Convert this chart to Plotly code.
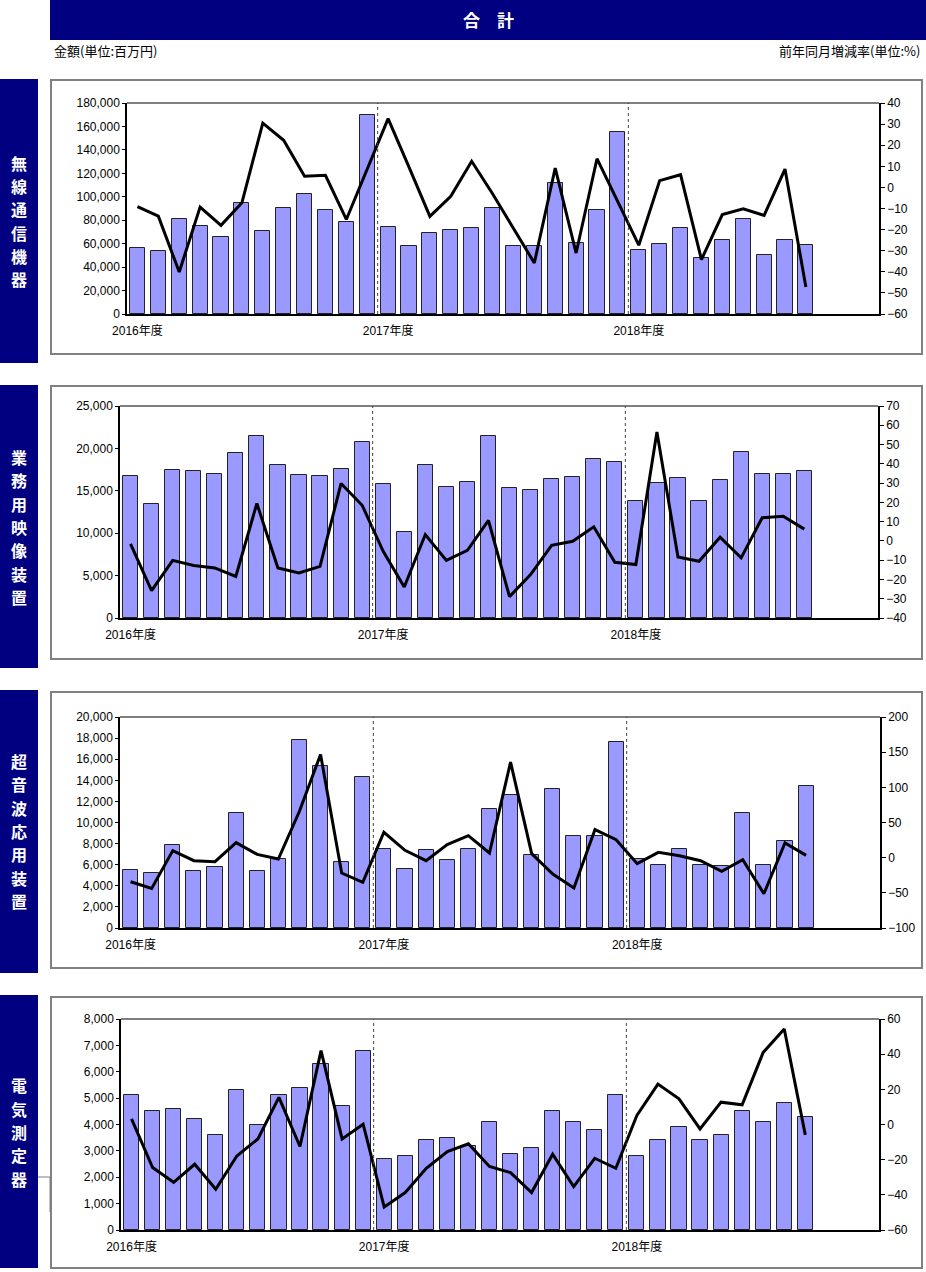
import plotly.graph_objects as go

W, H = 926, 1272

# ---------------- data ----------------
months = list(range(33))  # 2016-04 .. 2018-12
year_ticks = [0, 12, 24]
year_labels = ["2016年度", "2017年度", "2018年度"]

wireless_amt = [56500, 53500, 81000, 75500, 65500, 94500, 71000, 90500, 102500, 89000, 78500, 169500,
                74500, 58000, 69000, 71500, 73000, 90500, 58000, 58000, 112000, 60500, 89000, 155000,
                54500, 59500, 73500, 47500, 63500, 81000, 50000, 63000, 59000]
wireless_yoy = [-9.1, -13.6, -40.1, -9.3, -18.0, -7.3, 30.5, 22.3, 5.3, 5.7, -15.2, 8.5,
                32.6, 9.6, -13.7, -4.2, 12.4, -3.0, -19.5, -35.8, 9.2, -31.1, 13.6, -6.9,
                -27.4, 3.2, 6.0, -34.2, -12.9, -10.1, -13.3, 8.7, -47.2]

video_amt = [16800, 13400, 17500, 17300, 17000, 19500, 21500, 18100, 16900, 16800, 17600, 20800,
             15800, 10200, 18000, 15500, 16000, 21500, 15300, 15100, 16400, 16600, 18800, 18400,
             13800, 15900, 16500, 13800, 16300, 19600, 17000, 17000, 17300]
video_yoy = [-1.6, -25.8, -10.1, -12.8, -14.0, -18.4, 19.4, -14.0, -16.6, -13.2, 29.8, 18.5,
             -5.4, -23.9, 3.3, -10.1, -4.9, 10.6, -28.9, -17.5, -2.3, -0.2, 7.3, -11.1,
             -12.3, 56.5, -8.3, -10.6, 1.9, -8.8, 12.0, 12.8, 6.1]

ultra_amt = [5500, 5200, 7900, 5400, 5800, 10900, 5400, 6500, 17800, 15400, 6300, 14300,
             7500, 5600, 7400, 6400, 7500, 11300, 12600, 6900, 13200, 8700, 8700, 17600,
             6500, 6000, 7500, 6000, 5900, 10900, 6000, 8200, 13500]
ultra_yoy = [-34.2, -43.7, 10.0, -4.3, -5.7, 21.4, 4.7, -1.9, 66.0, 146.7, -21.8, -35.1,
             36.1, 10.4, -4.3, 18.5, 31.3, 6.6, 135.8, 5.7, -23.3, -43.2, 39.9, 25.6,
             -8.5, 7.6, 2.8, -4.3, -19.5, -2.8, -51.3, 20.9, 3.3]

meter_amt = [5100, 4500, 4600, 4200, 3600, 5300, 4000, 5100, 5400, 6300, 4700, 6800,
             2700, 2800, 3400, 3500, 3200, 4100, 2900, 3100, 4500, 4100, 3800, 5100,
             2800, 3400, 3900, 3400, 3600, 4500, 4100, 4800, 4300]
meter_yoy = [3.2, -24.5, -32.9, -22.6, -36.8, -17.9, -8.2, 15.4, -12.5, 42.0, -8.2, 0.2,
             -46.9, -38.7, -24.9, -15.4, -11.0, -23.9, -27.4, -38.7, -16.9, -35.3, -19.2, -24.9,
             5.1, 23.0, 14.6, -2.5, 12.7, 11.2, 41.0, 54.3, -5.9]

panel_names = ["無線通信機器", "業務用映像装置", "超音波応用装置", "電気測定器"]
left_ranges = [(0, 180000, 20000), (0, 25000, 5000), (0, 20000, 2000), (0, 8000, 1000)]
right_ranges = [(-60, 40, 10), (-40, 70, 10), (-100, 200, 50), (-60, 60, 20)]
amounts = [wireless_amt, video_amt, ultra_amt, meter_amt]
yoys = [wireless_yoy, video_yoy, ultra_yoy, meter_yoy]

# ---------------- layout geometry (pixels) ----------------
plot_boxes = [(127, 879, 103, 314), (120, 878, 406, 618), (120, 880, 717, 928), (121, 879, 1019, 1230)]
frames = [(51, 922, 80, 354), (51, 922, 386, 659), (51, 922, 692, 968), (51, 922, 997, 1268)]
side_boxes = [(79, 363), (385, 668), (690, 973), (995, 1268)]
label_centers = [221, 527, 831, 1132]
char_step = 23.3

NAVY = "#000080"
NUMFONT = "Liberation Sans, Arial, Noto Sans CJK JP, sans-serif"
JPFONT = "Noto Sans CJK JP, sans-serif"


def px(x):
    return x / W


def py(y):
    return 1 - y / H


fig = go.Figure()
layout = dict(
    template="none",
    width=W, height=H, margin=dict(l=0, r=0, t=0, b=0, pad=0), autosize=False,
    paper_bgcolor="white", plot_bgcolor="white", showlegend=False,
    font=dict(family=NUMFONT, size=12, color="#000"),
    bargap=0,
)
shapes = []
annotations = []

for i in range(4):
    n = i + 1
    xa = "x" if n == 1 else f"x{n}"
    ya = "y" if n == 1 else f"y{n}"
    yr = f"y{n + 4}"
    x0, x1, y0, y1 = plot_boxes[i]

    fig.add_trace(go.Bar(x=months, y=amounts[i], xaxis=xa, yaxis=ya, width=0.72,
                         marker=dict(color="#9999FF", line=dict(color="#222", width=1))))
    fig.add_trace(go.Scatter(x=months, y=yoys[i], xaxis=xa, yaxis=yr, mode="lines",
                             line=dict(color="#000", width=3)))

    layout[f"xaxis{'' if n == 1 else n}"] = dict(
        domain=[px(x0), px(x1)], anchor=ya, range=[-0.5, 35.5], automargin=False,
        tickmode="array", tickvals=year_ticks, ticktext=year_labels, ticklabelstandoff=5,
        ticks="", showline=True, linecolor="#000", linewidth=1.5, showgrid=False,
        zeroline=False, tickfont=dict(size=12, family=NUMFONT), fixedrange=True,
    )
    lo, hi, dt = left_ranges[i]
    layout[f"yaxis{'' if n == 1 else n}"] = dict(
        domain=[py(y1), py(y0)], anchor=xa, range=[lo, hi], dtick=dt, tick0=0,
        automargin=False, tickformat=",d", ticks="outside", ticklen=3, tickcolor="#000",
        showline=True, linecolor="#000", linewidth=1.5, showgrid=False, zeroline=False,
        tickfont=dict(size=12), fixedrange=True,
    )
    rlo, rhi, rdt = right_ranges[i]
    layout[f"yaxis{n + 4}"] = dict(
        overlaying=ya, anchor=xa, side="right", range=[rlo, rhi], dtick=rdt, tick0=0,
        automargin=False, ticks="outside", ticklen=4, tickcolor="#000",
        showline=True, linecolor="#000", linewidth=1.5, showgrid=False, zeroline=False,
        tickfont=dict(size=12), fixedrange=True,
    )

    # plot area top border
    shapes.append(dict(type="line", xref="paper", yref="paper", x0=px(x0), x1=px(x1),
                       y0=py(y0), y1=py(y0), line=dict(color="#555", width=1.5)))
    # fiscal-year dividers
    for d in (11.5, 23.5):
        shapes.append(dict(type="line", xref=xa, yref=f"{ya} domain", x0=d, x1=d, y0=0, y1=1,
                           line=dict(color="#444", width=1, dash="dot")))
    # panel frame
    fx0, fx1, fy0, fy1 = frames[i]
    shapes.append(dict(type="rect", xref="paper", yref="paper", x0=px(fx0), x1=px(fx1),
                       y0=py(fy1), y1=py(fy0), line=dict(color="#808080", width=2)))
    # side label box
    sy0, sy1 = side_boxes[i]
    shapes.append(dict(type="rect", xref="paper", yref="paper", x0=0, x1=px(38),
                       y0=py(sy1), y1=py(sy0), fillcolor=NAVY, line=dict(width=0)))
    name = panel_names[i]
    for k, ch in enumerate(name):
        cy = label_centers[i] + (k - (len(name) - 1) / 2) * char_step
        annotations.append(dict(xref="paper", yref="paper", x=px(19), y=py(cy),
                                text=f"<b>{ch}</b>", showarrow=False, borderpad=0,
                                font=dict(family=JPFONT, size=16, color="white"),
                                xanchor="center", yanchor="middle"))

# small connector line near bottom panel
shapes.append(dict(type="path", xref="paper", yref="paper",
                   path=f"M {px(38)},{py(1177)} L {px(50)},{py(1177)} L {px(50)},{py(1212)}",
                   line=dict(color="#808080", width=1)))

# title bar
shapes.append(dict(type="rect", xref="paper", yref="paper", x0=px(50), x1=1,
                   y0=py(40), y1=1, fillcolor=NAVY, line=dict(width=0)))
annotations.append(dict(xref="paper", yref="paper", x=px(488), y=py(20), text="<b>合　計</b>",
                        showarrow=False, font=dict(family=JPFONT, size=17, color="white"),
                        xanchor="center", yanchor="middle"))
annotations.append(dict(xref="paper", yref="paper", x=px(52), y=py(50), text="金額(単位:百万円)",
                        showarrow=False, font=dict(family=JPFONT, size=13, color="#000"),
                        xanchor="left", yanchor="middle"))
annotations.append(dict(xref="paper", yref="paper", x=px(922), y=py(50), text="前年同月増減率(単位:%)",
                        showarrow=False, font=dict(family=JPFONT, size=13, color="#000"),
                        xanchor="right", yanchor="middle"))

layout["shapes"] = shapes
layout["annotations"] = annotations
fig.update_layout(**layout)

fig.write_html("out.html", config={"displayModeBar": False},
               post_script="document.body.style.margin='0';")
